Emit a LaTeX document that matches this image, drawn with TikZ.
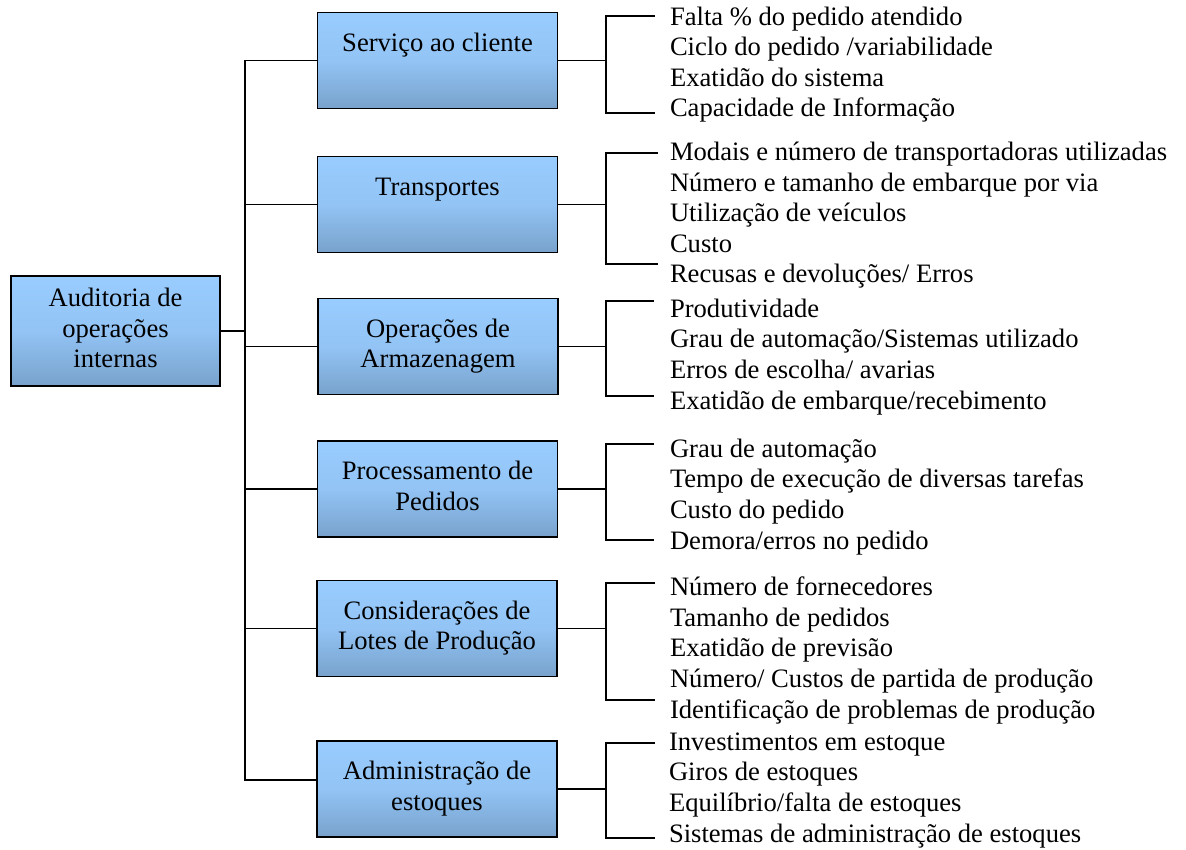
\documentclass[tikz,border=0pt]{standalone}
\usepackage{fontspec}
\setmainfont{Liberation Serif}
\definecolor{box top color}{RGB}{153,204,255}
\definecolor{box bottom color}{RGB}{120,162,204}
\colorlet{box middle color}{box top color!80!box bottom color}
\tikzset{
    x={1pt},
    y={-1pt},
    big text/.style={
        font={\fontsize{26.6}{30.6}\selectfont},
    },
    topic box/.style={
        big text,
        draw=black,
        line width={1.8pt},
        top color=box top color,
        bottom color=box bottom color,
        middle color=box middle color,
        align=center,
        inner sep=0pt,
        minimum width={240},
        minimum height={96},
    },
    root box/.style={
        topic box,
        minimum width={209},
        minimum height={110},
    },
    item list/.style={
        big text,
        anchor=base west,
        align=left,
        inner sep=0pt,
        outer sep=0pt,
    },
    link/.style={
        draw=black,
        line width={1.8pt},
    },
}

\begin{document}
\begin{tikzpicture}
\useasboundingbox (0,0) rectangle (1186,850);
% boxes
\node[root box] (audit) at (115.5,331) {\strut Auditoria de\\\strut operações\\\strut internas};
\node[topic box] (svc) at (437.5,60.5) {\strut Serviço ao cliente\\\strut};
\node[topic box] (trn) at (437.5,204.5) {\strut Transportes\\\strut};
\node[topic box] (arm) at (438,346.5) {\strut Operações de\\\strut Armazenagem};
\node[topic box] (ped) at (437.5,489) {\strut Processamento de\\\strut Pedidos};
\node[topic box] (lot) at (437,628.5) {\strut Considerações de\\\strut Lotes de Produção};
\node[topic box] (est) at (437,789) {\strut Administração de\\\strut estoques};
% item lists (placed at the baseline of their last line)
\node[item list] (svc items) at (670,117) {Falta \% do pedido atendido\\Ciclo do pedido /variabilidade\\Exatidão do sistema\\Capacidade de Informação};
\node[item list] (trn items) at (670,283) {Modais e número de transportadoras utilizadas\\Número e tamanho de embarque por via\\Utilização de veículos\\Custo\\Recusas e devoluções/ Erros};
\node[item list] (arm items) at (670,409) {Produtividade\\Grau de automação/Sistemas utilizado\\Erros de escolha/ avarias\\Exatidão de embarque/recebimento};
\node[item list] (ped items) at (670,549) {Grau de automação\\Tempo de execução de diversas tarefas\\Custo do pedido\\Demora/erros no pedido};
\node[item list] (lot items) at (670,718) {Número de fornecedores\\Tamanho de pedidos\\Exatidão de previsão\\Número/ Custos de partida de produção\\Identificação de problemas de produção};
\node[item list] (est items) at (669,842) {Investimentos em estoque\\Giros de estoques\\Equilíbrio/falta de estoques\\Sistemas de administração de estoques};
% tree links
\coordinate (trunk) at (245,0);
\path[link] (audit.east) -- (audit.east -| trunk) |- (svc.west);
\path[link] (audit.east) -- (audit.east -| trunk) |- (trn.west);
\path[link] (audit.east) -- (audit.east -| trunk) |- (arm.west);
\path[link] (audit.east) -- (audit.east -| trunk) |- (ped.west);
\path[link] (audit.east) -- (audit.east -| trunk) |- (lot.west);
\path[link] (audit.east) -- (audit.east -| trunk) |- ([yshift=9]est.west);
% brackets
\coordinate (fork) at (606,0);
\coordinate (svc top) at (655,16);
\coordinate (svc bottom) at (655,112.7);
\coordinate (trn top) at (658,152.7);
\coordinate (trn bottom) at (658,264.3);
\coordinate (arm top) at (654,300.7);
\coordinate (arm bottom) at (654,396);
\coordinate (ped top) at (654,444.3);
\coordinate (ped bottom) at (654,540);
\coordinate (lot top) at (655,582.7);
\coordinate (lot bottom) at (655,700);
\coordinate (est top) at (655,742.7);
\coordinate (est bottom) at (655,838);
\path[link] (svc.east) -- (svc.east -| fork);
\path[link] (svc top) -- (svc top -| fork) |- (svc bottom);
\path[link] (trn.east) -- (trn.east -| fork);
\path[link] (trn top) -- (trn top -| fork) |- (trn bottom);
\path[link] (arm.east) -- (arm.east -| fork);
\path[link] (arm top) -- (arm top -| fork) |- (arm bottom);
\path[link] (ped.east) -- (ped.east -| fork);
\path[link] (ped top) -- (ped top -| fork) |- (ped bottom);
\path[link] (lot.east) -- (lot.east -| fork);
\path[link] (lot top) -- (lot top -| fork) |- (lot bottom);
\path[link] (est.east) -- (est.east -| fork);
\path[link] (est top) -- (est top -| fork) |- (est bottom);
\end{tikzpicture}
\end{document}
